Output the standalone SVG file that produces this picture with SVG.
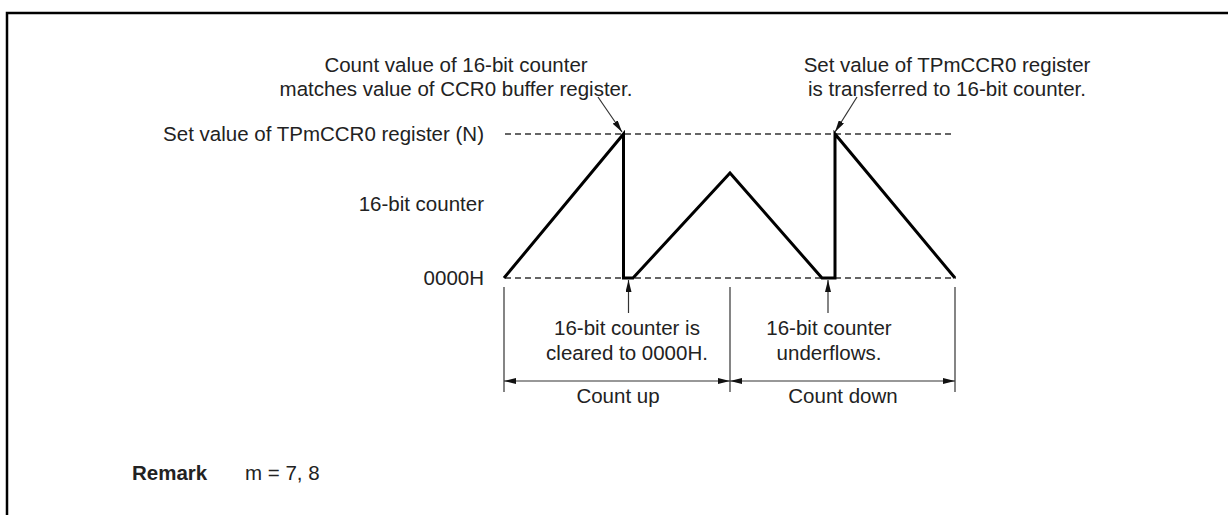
<svg xmlns="http://www.w3.org/2000/svg" width="1228" height="515" viewBox="0 0 1228 515">
<defs>
<style>
text{font-family:"Liberation Sans",Arial,sans-serif;font-size:20.5px;fill:#222}
.c{text-anchor:middle}
.e{text-anchor:end}
.b{font-weight:bold}
.dash{stroke:#333;stroke-width:1.3;stroke-dasharray:6 4;fill:none}
.wave{stroke:#000;stroke-width:3;fill:none;stroke-linejoin:miter}
.thin{stroke:#333;stroke-width:1.2;fill:none}
.frame{stroke:#000;stroke-width:2.5;fill:none}
</style>
<marker id="ah" viewBox="0 0 12 6" refX="12" refY="3" markerWidth="12" markerHeight="6" markerUnits="userSpaceOnUse" orient="auto">
<path d="M0,0 L12,3 L0,6 Z" fill="#111"/>
</marker>
</defs>
<g id="frame">
<path class="frame" d="M7,515 V13 H1228"/>
</g>
<g id="guides">
<line class="dash" x1="505" y1="134" x2="952" y2="134"/>
<line class="dash" x1="505" y1="278" x2="956" y2="278"/>
</g>
<g id="waveform">
<polyline class="wave" points="504,278 623.5,134 623.5,278 633,278 730,173 822,278 835,278 835,134 955,278"/>
</g>
<g id="connectors">
<line class="thin" x1="598" y1="97" x2="622" y2="132" marker-end="url(#ah)"/>
<line class="thin" x1="857" y1="97" x2="835" y2="132" marker-end="url(#ah)"/>
<line class="thin" x1="628.5" y1="313" x2="628.5" y2="280" marker-end="url(#ah)"/>
<line class="thin" x1="828" y1="313" x2="828" y2="280" marker-end="url(#ah)"/>
<line class="thin" x1="504" y1="287" x2="504" y2="392"/>
<line class="thin" x1="730" y1="287" x2="730" y2="392"/>
<line class="thin" x1="955" y1="287" x2="955" y2="392"/>
<line class="thin" x1="617" y1="381" x2="504" y2="381" marker-end="url(#ah)"/>
<line class="thin" x1="617" y1="381" x2="730" y2="381" marker-end="url(#ah)"/>
<line class="thin" x1="843" y1="381" x2="730" y2="381" marker-end="url(#ah)"/>
<line class="thin" x1="843" y1="381" x2="955" y2="381" marker-end="url(#ah)"/>
</g>
<g id="label-match">
<text class="c" x="456" y="72">Count value of 16-bit counter</text>
<text class="c" x="456" y="96">matches value of CCR0 buffer register.</text>
</g>
<g id="label-transfer">
<text class="c" x="947" y="72">Set value of TPmCCR0 register</text>
<text class="c" x="947" y="96">is transferred to 16-bit counter.</text>
</g>
<g id="axis-labels">
<text class="e" x="484" y="141">Set value of TPmCCR0 register (N)</text>
<text class="e" x="484" y="211">16-bit counter</text>
<text class="e" x="484" y="285">0000H</text>
</g>
<g id="label-cleared">
<text class="c" x="627" y="335">16-bit counter is</text>
<text class="c" x="627" y="360">cleared to 0000H.</text>
</g>
<g id="label-underflow">
<text class="c" x="829" y="335">16-bit counter</text>
<text class="c" x="829" y="360">underflows.</text>
</g>
<g id="label-count">
<text class="c" x="618" y="403">Count up</text>
<text class="c" x="843" y="403">Count down</text>
</g>
<g id="remark">
<text class="b" x="132" y="480">Remark</text>
<text x="245" y="480">m = 7, 8</text>
</g>
</svg>
